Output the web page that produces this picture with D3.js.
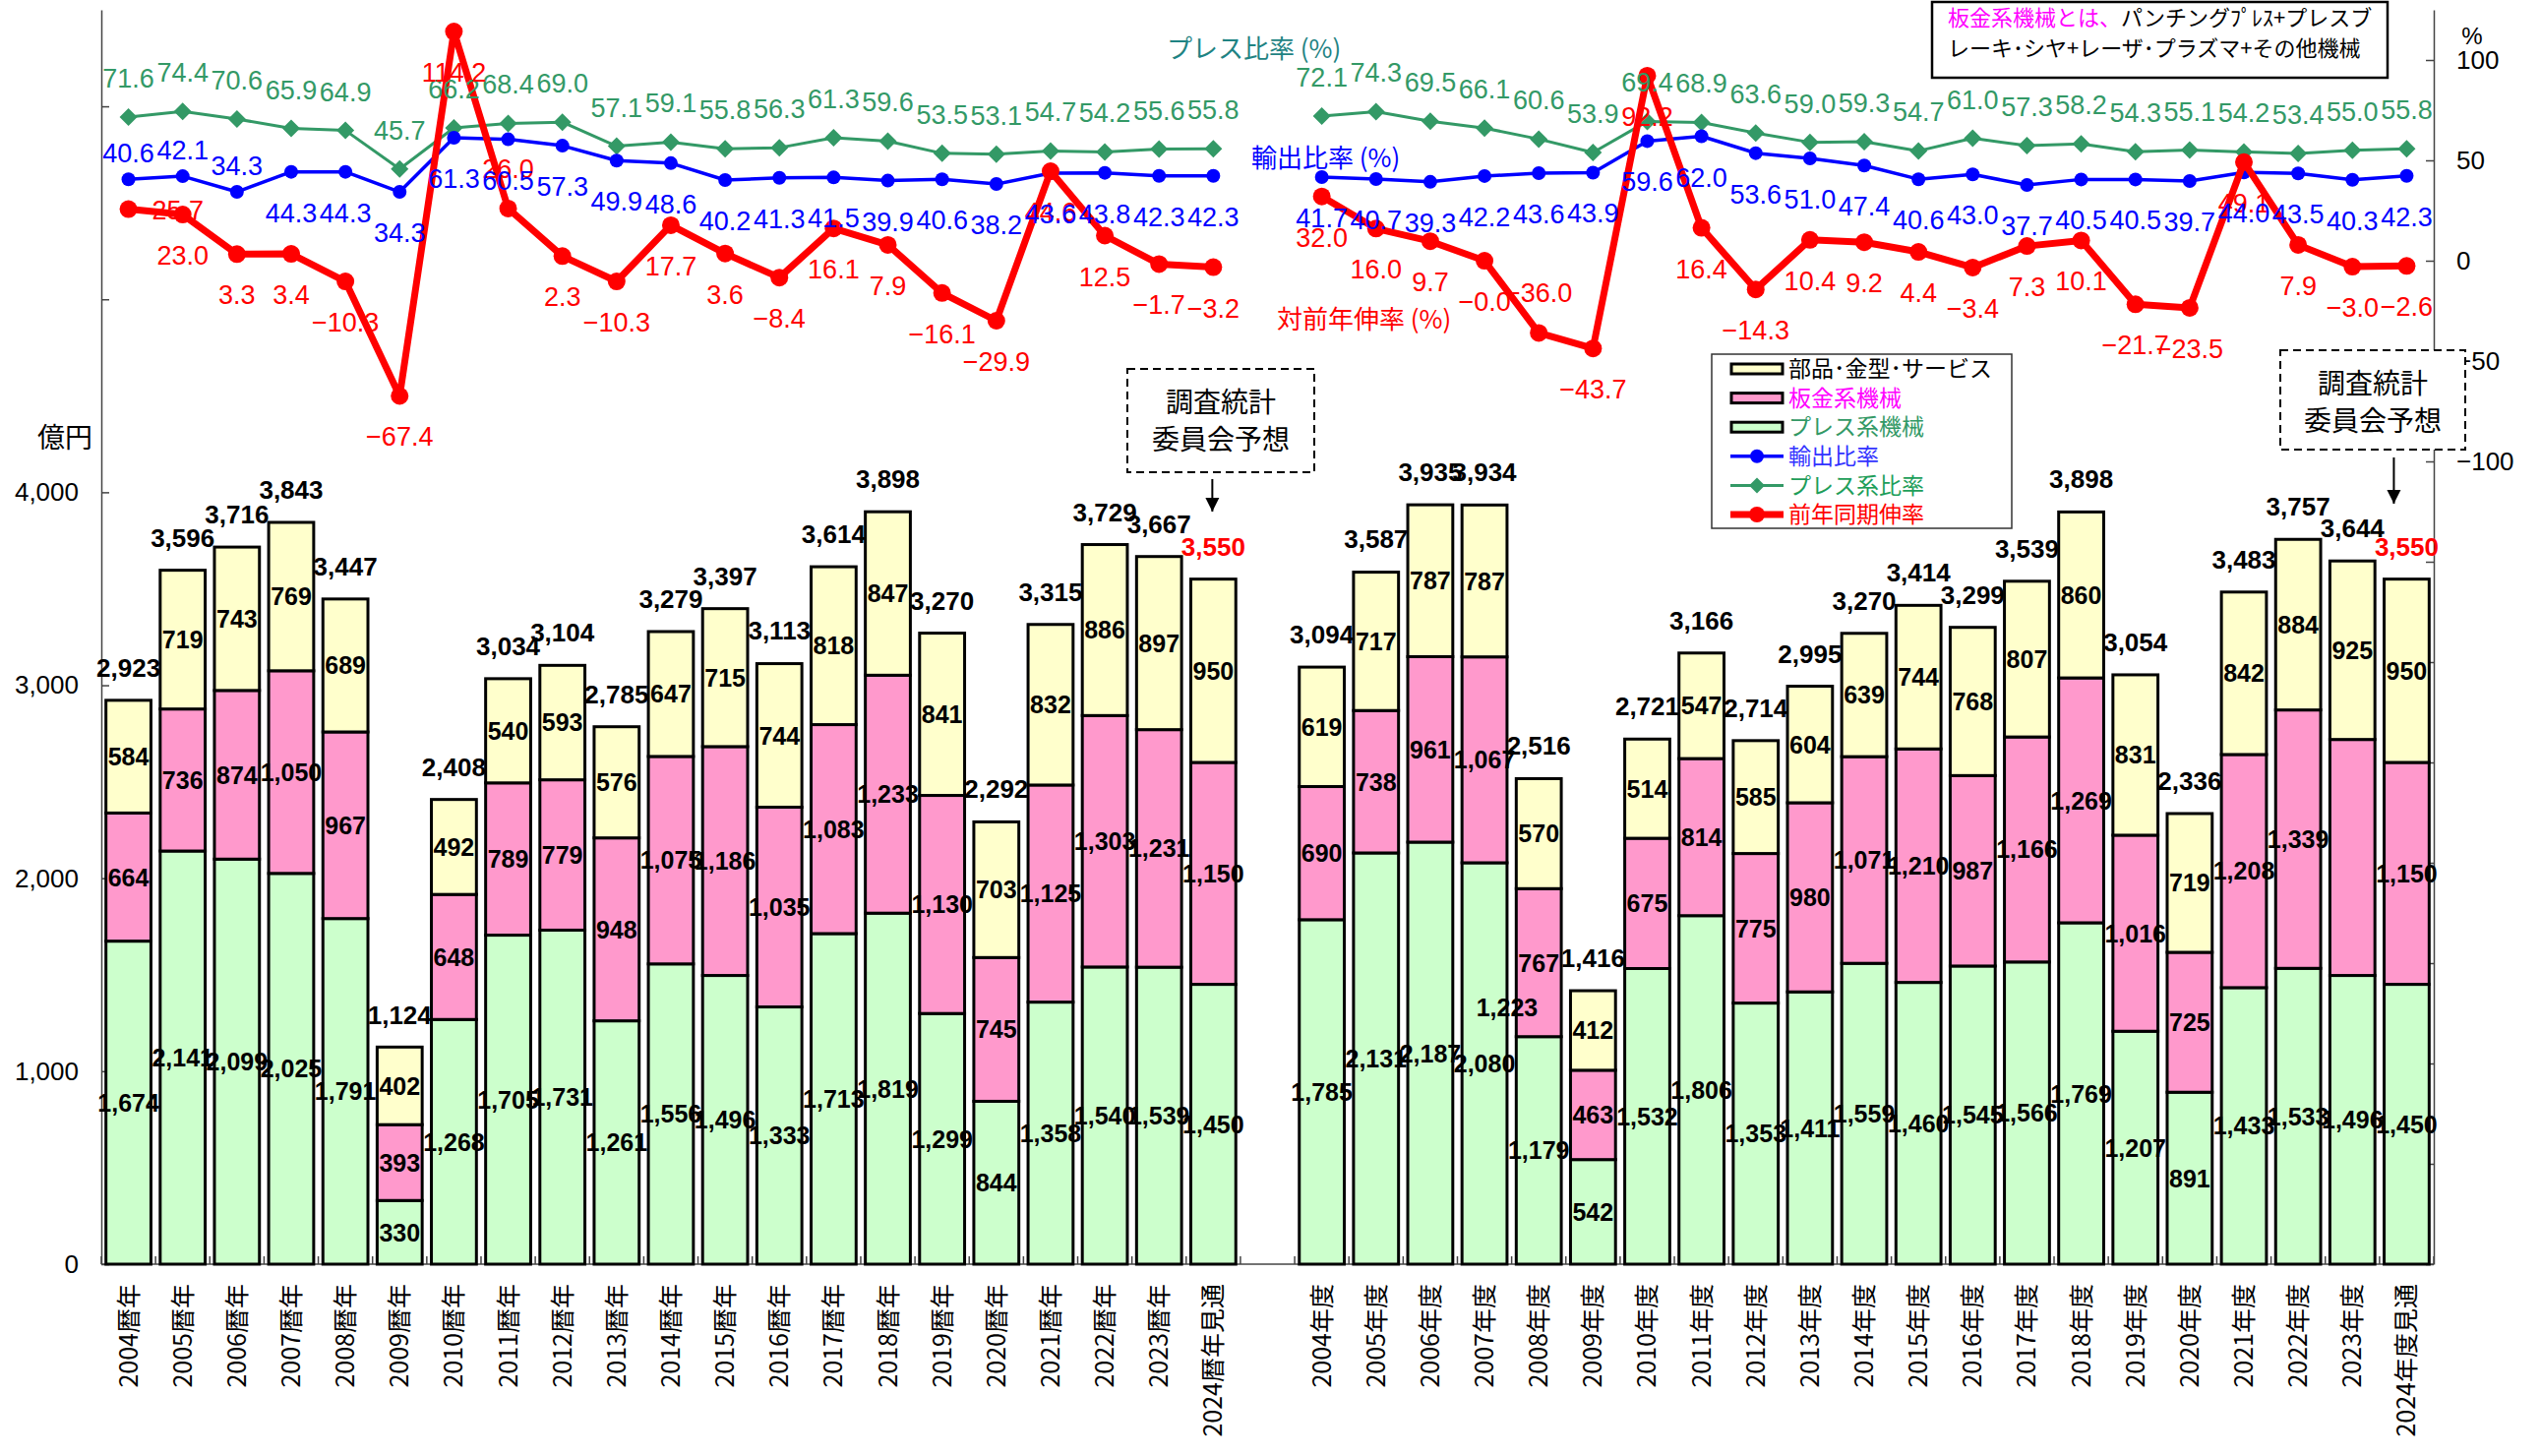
<!DOCTYPE html>
<html lang="ja">
<head>
<meta charset="utf-8">
<script src="https://cdn.jsdelivr.net/npm/d3@7/dist/d3.min.js"></script>
<style>
  body { margin: 0; background: #fff; }
  svg text { font-family: "Liberation Sans", Arial, sans-serif; }
  svg .jp { font-family: "Noto Sans CJK JP", "Noto Sans", sans-serif; }
</style>
</head>
<body>
<svg id="chart"></svg>
<script>
// ---- data: calendar years (暦年) ----
const calYears = ['2004暦年','2005暦年','2006暦年','2007暦年','2008暦年','2009暦年','2010暦年','2011暦年','2012暦年','2013暦年',
  '2014暦年','2015暦年','2016暦年','2017暦年','2018暦年','2019暦年','2020暦年','2021暦年','2022暦年','2023暦年','2024暦年見通'];
const calPress = [1674, 2141, 2099, 2025, 1791, 330, 1268, 1705, 1731, 1261, 1556, 1496, 1333, 1713, 1819, 1299, 844, 1358, 1540, 1539, 1450];
const calSheet = [664, 736, 874, 1050, 967, 393, 648, 789, 779, 948, 1075, 1186, 1035, 1083, 1233, 1130, 745, 1125, 1303, 1231, 1150];
const calParts = [584, 719, 743, 769, 689, 402, 492, 540, 593, 576, 647, 715, 744, 818, 847, 841, 703, 832, 886, 897, 950];
const calTotal = [2923, 3596, 3716, 3843, 3447, 1124, 2408, 3034, 3104, 2785, 3279, 3397, 3113, 3614, 3898, 3270, 2292, 3315, 3729, 3667, 3550];
const calExport = [40.6, 42.1, 34.3, 44.3, 44.3, 34.3, 61.3, 60.5, 57.3, 49.9, 48.6, 40.2, 41.3, 41.5, 39.9, 40.6, 38.2, 43.6, 43.8, 42.3, 42.3];
const calPressRatio = [71.6, 74.4, 70.6, 65.9, 64.9, 45.7, 66.2, 68.4, 69.0, 57.1, 59.1, 55.8, 56.3, 61.3, 59.6, 53.5, 53.1, 54.7, 54.2, 55.6, 55.8];
const calGrowth = [25.7, 23.0, 3.3, 3.4, -10.3, -67.4, 114.2, 26.0, 2.3, -10.3, 17.7, 3.6, -8.4, 16.1, 7.9, -16.1, -29.9, 44.6, 12.5, -1.7, -3.2];

// ---- data: fiscal years (年度) ----
const fisYears = ['2004年度','2005年度','2006年度','2007年度','2008年度','2009年度','2010年度','2011年度','2012年度','2013年度',
  '2014年度','2015年度','2016年度','2017年度','2018年度','2019年度','2020年度','2021年度','2022年度','2023年度','2024年度見通'];
const fisPress = [1785, 2131, 2187, 2080, 1179, 542, 1532, 1806, 1353, 1411, 1559, 1460, 1545, 1566, 1769, 1207, 891, 1433, 1533, 1496, 1450];
const fisSheet = [690, 738, 961, 1067, 767, 463, 675, 814, 775, 980, 1071, 1210, 987, 1166, 1269, 1016, 725, 1208, 1339, 1223, 1150];
const fisParts = [619, 717, 787, 787, 570, 412, 514, 547, 585, 604, 639, 744, 768, 807, 860, 831, 719, 842, 884, 925, 950];
const fisTotal = [3094, 3587, 3935, 3934, 2516, 1416, 2721, 3166, 2714, 2995, 3270, 3414, 3299, 3539, 3898, 3054, 2336, 3483, 3757, 3644, 3550];
const fisExport = [41.7, 40.7, 39.3, 42.2, 43.6, 43.9, 59.6, 62.0, 53.6, 51.0, 47.4, 40.6, 43.0, 37.7, 40.5, 40.5, 39.7, 44.0, 43.5, 40.3, 42.3];
const fisPressRatio = [72.1, 74.3, 69.5, 66.1, 60.6, 53.9, 69.4, 68.9, 63.6, 59.0, 59.3, 54.7, 61.0, 57.3, 58.2, 54.3, 55.1, 54.2, 53.4, 55.0, 55.8];
const fisGrowth = [32.0, 16.0, 9.7, -0.03, -36.0, -43.7, 92.2, 16.4, -14.3, 10.4, 9.2, 4.4, -3.4, 7.3, 10.1, -21.7, -23.5, 49.1, 7.9, -3.0, -2.6];

// axis ticks
const leftTicks = [0, 1000, 2000, 3000, 4000, 5000, 6000];
const leftTickLabels = ['0', '1,000', '2,000', '3,000', '4,000'];
const rightTicks = [-500, -450, -400, -350, -300, -250, -200, -150, -100, -50, 0, 50, 100];
const rightTickLabels = [-100, -50, 0, 50, 100];

// where the line labels sit: a = above, b = below, r = right of the point
const calExportPos = ['a','a','a','b','b','b','b','b','b','b','b','b','b','b','b','b','b','b','b','b','b'];
const calGrowthPos = ['r','b','b','b','b','b','b','a','b','b','b','b','b','b','b','b','b','b','b','b','b'];
const fisExportPos = Array(21).fill('b');
const fisGrowthPos = ['b','b','b','b','a','b','b','b','b','b','b','b','b','b','b','b','b','b','b','b','b'];

class ComboChart {

  constructor(_config) {
    this.config = {
      parentElement: _config.parentElement,
      containerWidth: 2583,
      containerHeight: 1480,
      margin: { top: 10, bottom: 195, left: 103, right: 109 }
    };
    this.groups = [
      { cats: calYears, press: calPress, sheet: calSheet, parts: calParts, total: calTotal,
        exportR: calExport, pressR: calPressRatio, growth: calGrowth, exportPos: calExportPos, growthPos: calGrowthPos },
      { cats: fisYears, press: fisPress, sheet: fisSheet, parts: fisParts, total: fisTotal,
        exportR: fisExport, pressR: fisPressRatio, growth: fisGrowth, exportPos: fisExportPos, growthPos: fisGrowthPos }
    ];
    this.initVis();
  }

  initVis() {
    let vis = this;
    const m = vis.config.margin;
    vis.width = vis.config.containerWidth - m.left - m.right;
    vis.height = vis.config.containerHeight - m.top - m.bottom;

    vis.svg = d3.select(vis.config.parentElement)
      .attr('width', vis.config.containerWidth)
      .attr('height', vis.config.containerHeight);
    vis.chart = vis.svg.append('g').attr('transform', `translate(${m.left},${m.top})`);

    // one band per category, empty slot between the two groups
    vis.categories = [...calYears, 'gap', ...fisYears];
    vis.xScale = d3.scaleBand().domain(vis.categories).range([0, vis.width])
      .paddingInner(0.17).paddingOuter(0.085);
    vis.yLeft = d3.scaleLinear().domain([0, 6500]).range([vis.height, 0]);
    vis.yRight = d3.scaleLinear().domain([-500, 125]).range([vis.height, 0]);

    vis.colors = { parts: '#FFFFCC', sheet: '#FF99CC', press: '#CCFFCC' };

    vis.renderVis();
  }

  renderVis() {
    let vis = this;
    const bw = vis.xScale.bandwidth();
    const cx = d => vis.xScale(d) + bw / 2;
    const fmtMinus = s => s.replace('-', '\u2212');

    // axes
    const leftAxis = d3.axisLeft(vis.yLeft).tickValues(leftTicks)
      .tickSizeInner(-8).tickSizeOuter(0).tickPadding(23)
      .tickFormat(d => leftTickLabels.includes(d3.format(',')(d)) ? d3.format(',')(d) : '');
    const gL = vis.chart.append('g').call(leftAxis);
    const rightAxis = d3.axisRight(vis.yRight).tickValues(rightTicks)
      .tickSizeInner(-8).tickSizeOuter(0).tickPadding(23)
      .tickFormat(d => rightTickLabels.includes(d) ? fmtMinus(String(d)) : '');
    const gR = vis.chart.append('g').attr('transform', `translate(${vis.width},0)`).call(rightAxis);
    [gL, gR].forEach(g => {
      g.select('.domain').attr('stroke', '#444').attr('stroke-width', 1.5);
      g.selectAll('.tick line').attr('stroke', '#444').attr('stroke-width', 1.5);
      g.selectAll('.tick text').attr('font-size', 26).attr('fill', '#000')
        .attr('font-family', '"Liberation Sans", Arial, sans-serif');
    });

    // baseline with small ticks between categories
    vis.chart.append('line').attr('x1', 0).attr('x2', vis.width)
      .attr('y1', vis.height).attr('y2', vis.height).attr('stroke', '#444').attr('stroke-width', 1.5);
    const step = vis.xScale.step();
    vis.chart.selectAll('.xtick').data(d3.range(vis.categories.length + 1)).enter().append('line')
      .attr('x1', i => i * step).attr('x2', i => i * step)
      .attr('y1', vis.height).attr('y2', vis.height - 8)
      .attr('stroke', '#444').attr('stroke-width', 1.5);

    // category labels, rotated
    vis.chart.selectAll('.xlab').data(vis.categories.filter(d => d !== 'gap')).enter().append('text')
      .attr('class', 'jp')
      .attr('transform', d => `translate(${cx(d)},${vis.height + 20}) rotate(-90)`)
      .attr('text-anchor', 'end').attr('dy', '0.36em')
      .attr('font-size', 25).text(d => d);

    vis.svg.append('text').attr('class', 'jp')
      .attr('x', 94).attr('y', 455).attr('text-anchor', 'end').attr('font-size', 28).text('億円');
    vis.svg.append('text').attr('x', 2513).attr('y', 45).attr('text-anchor', 'middle')
      .attr('font-size', 24).text('%');

    // stacked bars
    const keys = ['press', 'sheet', 'parts'];
    vis.groups.forEach((g, gi) => {
      const rows = g.cats.map((c, i) => ({ cat: c, press: g.press[i], sheet: g.sheet[i], parts: g.parts[i] }));
      const stacked = d3.stack().keys(keys)(rows);

      stacked.forEach(layer => {
        vis.chart.selectAll(null).data(layer).enter().append('rect')
          .attr('x', d => vis.xScale(d.data.cat))
          .attr('width', bw)
          .attr('y', d => vis.yLeft(d[1]))
          .attr('height', d => vis.yLeft(d[0]) - vis.yLeft(d[1]))
          .attr('fill', vis.colors[layer.key])
          .attr('stroke', '#000').attr('stroke-width', 3);
      });

      stacked.forEach(layer => {
        // the 2023年度 sheet-metal label drifted off its bar in the original
        const data = layer.filter(d => !(gi === 1 && layer.key === 'sheet' && d.data.cat === '2023年度'));
        vis.chart.selectAll(null).data(data).enter().append('text')
          .attr('x', d => cx(d.data.cat))
          .attr('y', d => (vis.yLeft(d[0]) + vis.yLeft(d[1])) / 2)
          .attr('dy', '0.36em').attr('text-anchor', 'middle')
          .attr('font-size', 25).attr('font-weight', 'bold')
          .text(d => d3.format(',')(d.data[layer.key]));
      });

      // totals on top
      vis.chart.selectAll(null).data(g.cats).enter().append('text')
        .attr('x', d => cx(d))
        .attr('y', (d, i) => vis.yLeft(g.total[i]) - 24)
        .attr('text-anchor', 'middle')
        .attr('font-size', 26).attr('font-weight', 'bold')
        .attr('fill', d => d.endsWith('見通') ? '#FF0000' : '#000')
        .text((d, i) => d3.format(',')(g.total[i]));
    });

    // stray label as in the reference
    vis.chart.append('text')
      .attr('x', vis.xScale('2007年度') + bw).attr('y', vis.yLeft(1330))
      .attr('dy', '0.36em').attr('text-anchor', 'middle')
      .attr('font-size', 25).attr('font-weight', 'bold')
      .text(d3.format(',')(fisSheet[19]));

    // lines
    const diamond = 'M0,-9L9,0L0,9L-9,0Z';
    const series = [
      { key: 'pressR', color: '#339966', width: 3, marker: 'diamond' },
      { key: 'exportR', color: '#0000FF', width: 3.5, marker: 'circle', r: 7 },
      { key: 'growth', color: '#FF0000', width: 7, marker: 'circle', r: 9 }
    ];
    series.forEach(s => {
      vis.groups.forEach(g => {
        const pts = g.cats.map((c, i) => [cx(c), vis.yRight(g[s.key][i])]);
        vis.chart.append('path').datum(pts)
          .attr('d', d3.line()).attr('fill', 'none')
          .attr('stroke', s.color).attr('stroke-width', s.width).attr('stroke-linejoin', 'round');
        if (s.marker === 'circle') {
          vis.chart.selectAll(null).data(pts).enter().append('circle')
            .attr('cx', d => d[0]).attr('cy', d => d[1]).attr('r', s.r).attr('fill', s.color);
        } else {
          vis.chart.selectAll(null).data(pts).enter().append('path')
            .attr('d', diamond).attr('transform', d => `translate(${d[0]},${d[1]})`).attr('fill', s.color);
        }
      });
    });

    // line labels (green, red, then blue on top)
    const labelSets = [
      { key: 'pressR', color: '#339966', pos: () => 'a', up: 30 },
      { key: 'growth', color: '#FF0000', pos: g => g.growthPos, up: 31 },
      { key: 'exportR', color: '#0000FF', pos: g => g.exportPos, up: 17 }
    ];
    labelSets.forEach(ls => {
      vis.groups.forEach(g => {
        const posArr = ls.pos(g);
        g.cats.forEach((c, i) => {
          const v = g[ls.key][i];
          const px = cx(c), py = vis.yRight(v);
          const p = typeof posArr === 'string' ? posArr : posArr[i];
          let x = px, y, anchor = 'middle';
          if (p === 'a') y = py - ls.up;
          else if (p === 'b') y = py + 51;
          else { x = px + 24; y = py + 10; anchor = 'start'; }
          vis.chart.append('text').attr('x', x).attr('y', y).attr('text-anchor', anchor)
            .attr('font-size', 27).attr('fill', ls.color)
            .text(fmtMinus(v.toFixed(1)));
        });
      });
    });

    vis.renderAnnotations();
  }

  renderAnnotations() {
    let vis = this;
    const svg = vis.svg;

    // series captions
    const captions = [
      { text: 'プレス比率 (%)', x: 1186, y: 59, color: '#1F8383' },
      { text: '輸出比率 (%)', x: 1272, y: 170, color: '#0000FF' },
      { text: '対前年伸率 (%)', x: 1298, y: 334, color: '#FF0000' }
    ];
    svg.selectAll('.cap').data(captions).enter().append('text')
      .attr('class', 'jp').attr('x', d => d.x).attr('y', d => d.y)
      .attr('font-size', 26).attr('fill', d => d.color).text(d => d.text);

    // note box at the top right
    svg.append('rect').attr('x', 1964).attr('y', 2).attr('width', 463).attr('height', 77)
      .attr('fill', '#fff').attr('stroke', '#000').attr('stroke-width', 2.5);
    const note1 = svg.append('text').attr('class', 'jp').attr('x', 1980).attr('y', 26).attr('font-size', 22);
    note1.append('tspan').attr('fill', '#FF00FF').text('板金系機械とは、');
    note1.append('tspan').attr('fill', '#000').text('パンチングﾌﾟﾚｽ+プレスブ');
    svg.append('text').attr('class', 'jp').attr('x', 1980).attr('y', 57).attr('font-size', 22)
      .text('レーキ･シヤ+レーザ･プラズマ+その他機械');

    // legend
    const lg = svg.append('g').attr('transform', 'translate(1740,360)');
    lg.append('rect').attr('width', 305).attr('height', 177)
      .attr('fill', '#fff').attr('stroke', '#333').attr('stroke-width', 1.5);
    const items = [
      { label: '部品･金型･サービス', color: '#000', type: 'box', fill: vis.colors.parts },
      { label: '板金系機械', color: '#FF00FF', type: 'box', fill: vis.colors.sheet },
      { label: 'プレス系機械', color: '#339966', type: 'box', fill: vis.colors.press },
      { label: '輸出比率', color: '#3333FF', type: 'circle', line: '#0000FF', w: 3.5, r: 7 },
      { label: 'プレス系比率', color: '#1E9E5A', type: 'diamond', line: '#339966', w: 3 },
      { label: '前年同期伸率', color: '#FF0000', type: 'circle', line: '#FF0000', w: 7, r: 8 }
    ];
    items.forEach((it, i) => {
      const yy = 15 + i * 29.6;
      if (it.type === 'box') {
        lg.append('rect').attr('x', 20).attr('y', yy - 5).attr('width', 52).attr('height', 10)
          .attr('fill', it.fill).attr('stroke', '#000').attr('stroke-width', 3);
      } else {
        lg.append('line').attr('x1', 19).attr('x2', 73).attr('y1', yy).attr('y2', yy)
          .attr('stroke', it.line).attr('stroke-width', it.w);
        if (it.type === 'circle') lg.append('circle').attr('cx', 46).attr('cy', yy).attr('r', it.r).attr('fill', it.line);
        else lg.append('path').attr('d', 'M0,-8L8,0L0,8L-8,0Z').attr('transform', `translate(46,${yy})`).attr('fill', it.line);
      }
      lg.append('text').attr('class', 'jp').attr('x', 78).attr('y', yy).attr('dy', '0.36em')
        .attr('font-size', 23).attr('fill', it.color).text(it.label);
    });

    // forecast call-outs (dashed box + arrow to the 見通 bars)
    svg.append('defs').append('marker').attr('id', 'arrow')
      .attr('viewBox', '0 0 10 10').attr('refX', 10).attr('refY', 5)
      .attr('markerWidth', 14).attr('markerHeight', 17).attr('markerUnits', 'userSpaceOnUse')
      .attr('orient', 'auto')
      .append('path').attr('d', 'M0,0L10,5L0,10Z').attr('fill', '#000');
    const m = vis.config.margin;
    const boxes = [
      { x: 1146, y: 375, w: 190, h: 105, cat: '2024暦年見通', dx: -1, y1: 487, y2: 520 },
      { x: 2318, y: 356, w: 188, h: 101, cat: '2024年度見通', dx: -13, y1: 465, y2: 512 }
    ];
    boxes.forEach(b => {
      svg.append('rect').attr('x', b.x).attr('y', b.y).attr('width', b.w).attr('height', b.h)
        .attr('fill', '#fff').attr('stroke', '#000').attr('stroke-width', 2).attr('stroke-dasharray', '8,5');
      svg.append('text').attr('class', 'jp').attr('x', b.x + b.w / 2).attr('y', b.y + 44)
        .attr('text-anchor', 'middle').attr('font-size', 28).text('調査統計');
      svg.append('text').attr('class', 'jp').attr('x', b.x + b.w / 2).attr('y', b.y + 82)
        .attr('text-anchor', 'middle').attr('font-size', 28).text('委員会予想');
      const ax = m.left + vis.xScale(b.cat) + vis.xScale.bandwidth() / 2 + b.dx;
      svg.append('line').attr('x1', ax).attr('x2', ax).attr('y1', b.y1).attr('y2', b.y2)
        .attr('stroke', '#000').attr('stroke-width', 2).attr('marker-end', 'url(#arrow)');
    });
  }
}

new ComboChart({ parentElement: '#chart' });
</script>
</body>
</html>
